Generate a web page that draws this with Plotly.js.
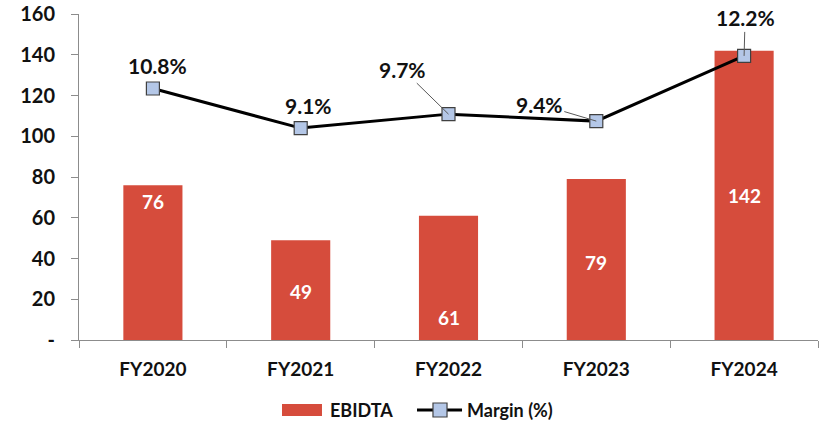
<!DOCTYPE html>
<html>
<head>
<meta charset="utf-8">
<script src="https://cdn.plot.ly/plotly-3.0.1.min.js"></script>
<style>
  html, body { margin: 0; padding: 0; background: #ffffff; }
  #chart { width: 820px; height: 428px; }
</style>
</head>
<body>
<div id="chart"></div>
<script>
// ---- Data ----
var categories = ['FY2020', 'FY2021', 'FY2022', 'FY2023', 'FY2024'];
var ebidta = [76, 49, 61, 79, 142];
var margin = [10.8, 9.1, 9.7, 9.4, 12.2];
var yTickVals = [0, 20, 40, 60, 80, 100, 120, 140, 160];
var yTickText = ['-', '20', '40', '60', '80', '100', '120', '140', '160'];
var seriesNames = ['EBIDTA', 'Margin (%)'];

// ---- Label placement (style only) ----
var barLabelY = [68, 24, 11, 38, 71];          // where the white labels sit inside bars
var marginLabelOffset = [                      // [ax, ay, showArrow] in pixels
  [5, -23, false],
  [8, -23, false],
  [-46, -45, true],
  [-57, -17, true],
  [1, -38, true]
];

var numFont = 'Lato, "DejaVu Sans", sans-serif';
var catFont = 'Lato, "Open Sans", sans-serif';
var barColor = '#D64C3C';
var markerFill = '#B4C7E7';
var markerEdge = '#404040';

var barTrace = {
  type: 'bar',
  name: seriesNames[0],
  x: categories,
  y: ebidta,
  width: 0.4,
  marker: { color: barColor, line: { width: 0 } },
  hoverinfo: 'x+y'
};

var lineTrace = {
  type: 'scatter',
  mode: 'lines+markers',
  name: seriesNames[1],
  x: categories,
  y: margin,
  yaxis: 'y2',
  line: { color: '#000000', width: 3 },
  marker: { symbol: 'square', size: 13, color: markerFill, line: { color: markerEdge, width: 1.2 } }
};

var annotations = [];
ebidta.forEach(function (v, i) {
  annotations.push({
    x: categories[i], y: barLabelY[i], xref: 'x', yref: 'y',
    text: String(v), showarrow: false,
    font: { family: numFont, size: 19, color: '#ffffff', weight: 'bold' }
  });
});
margin.forEach(function (m, i) {
  var o = marginLabelOffset[i];
  annotations.push({
    x: categories[i], y: m, xref: 'x', yref: 'y2',
    text: m.toFixed(1) + '%',
    showarrow: true,
    arrowhead: 0, arrowwidth: 1, arrowcolor: o[2] ? '#595959' : 'rgba(0,0,0,0)',
    ax: o[0], ay: o[1], standoff: 0,
    font: { family: numFont, size: 21, color: '#111111', weight: 'bold' }
  });
});

// ---- Custom legend (paper coordinates) ----
var legFont = { family: catFont, size: 18, color: '#111111', weight: 'bold' };
var legY = -0.2147;
annotations.push({ xref: 'paper', yref: 'paper', x: 0.3369, y: legY, xanchor: 'left', yanchor: 'middle',
  text: seriesNames[0], showarrow: false, font: legFont });
annotations.push({ xref: 'paper', yref: 'paper', x: 0.5225, y: legY, xanchor: 'left', yanchor: 'middle',
  text: seriesNames[1], showarrow: false, font: legFont });

var shapes = [
  { type: 'rect', xref: 'paper', yref: 'paper', x0: 0.2747, x1: 0.3288, y0: -0.1963, y1: -0.2331,
    fillcolor: barColor, line: { width: 0 } },
  { type: 'line', xref: 'paper', yref: 'paper', x0: 0.4574, x1: 0.5183, y0: legY, y1: legY,
    line: { color: '#000000', width: 3 } },
  { type: 'rect', xref: 'paper', yref: 'paper', x0: 0.4885 - 0.0095, x1: 0.4885 + 0.0095,
    y0: legY - 0.0215, y1: legY + 0.0215, fillcolor: markerFill, line: { color: markerEdge, width: 1.2 } }
];

var layout = {
  width: 820, height: 428,
  margin: { l: 79, r: 2, t: 14, b: 88 },
  paper_bgcolor: '#ffffff',
  plot_bgcolor: '#ffffff',
  showlegend: false,
  xaxis: {
    type: 'category',
    range: [-0.5, 4.5],
    showline: true, linecolor: '#8c8c8c', linewidth: 1,
    ticks: 'outside', tickson: 'boundaries', ticklen: 7, tickcolor: '#8c8c8c',
    showgrid: false, zeroline: false,
    tickfont: { family: catFont, size: 19, color: '#111111', weight: 'bold' },
    ticklabelstandoff: 12
  },
  yaxis: {
    range: [0, 160],
    tickvals: yTickVals, ticktext: yTickText,
    showline: true, linecolor: '#8c8c8c', linewidth: 1,
    ticks: 'outside', ticklen: 7, tickcolor: '#8c8c8c',
    showgrid: false, zeroline: false,
    tickfont: { family: numFont, size: 20, color: '#111111', weight: 'bold' },
    ticklabelstandoff: 12
  },
  yaxis2: {
    overlaying: 'y', side: 'right', range: [0, 14],
    visible: false, showgrid: false, zeroline: false
  },
  annotations: annotations,
  shapes: shapes
};

Plotly.newPlot('chart', [barTrace, lineTrace], layout, { displayModeBar: false, staticPlot: true });
</script>
</body>
</html>
